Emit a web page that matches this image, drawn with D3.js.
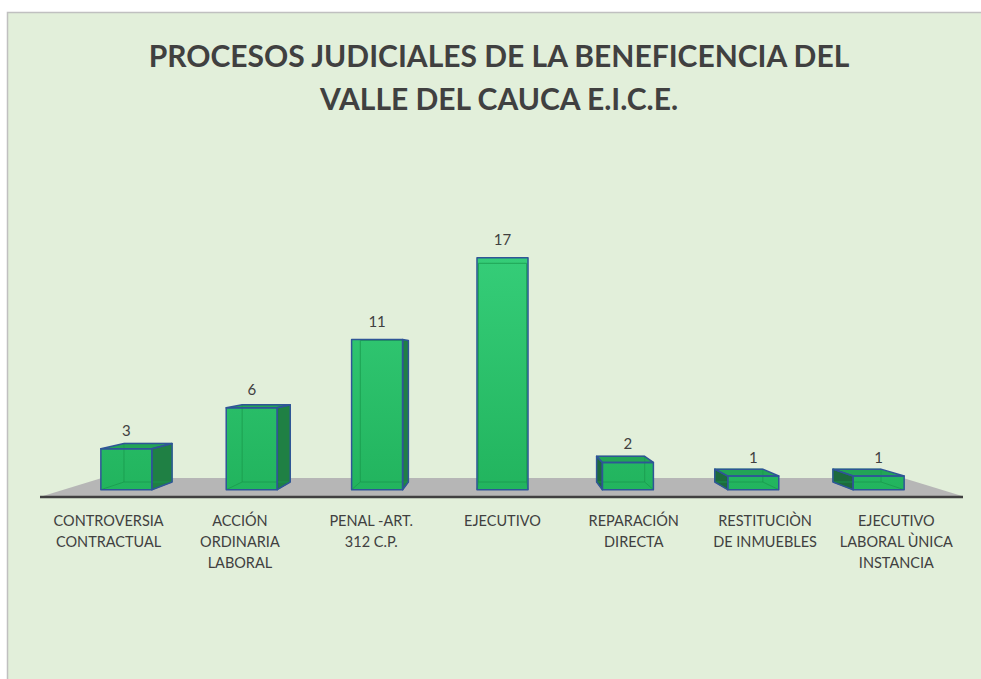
<!DOCTYPE html>
<html>
<head>
<meta charset="utf-8">
<script src="https://cdn.jsdelivr.net/npm/d3@7"></script>
<style>
  body { margin: 0; background: #ffffff; overflow: hidden; }
  text { font-family: Lato, "Open Sans", sans-serif; fill: #404040; }
</style>
</head>
<body>
<div id="wrapper"></div>
<script>
// chart data
const categories = ["CONTROVERSIA CONTRACTUAL", "ACCIÓN ORDINARIA LABORAL", "PENAL -ART. 312 C.P.", "EJECUTIVO",
  "REPARACIÓN DIRECTA", "RESTITUCIÒN DE INMUEBLES", "EJECUTIVO LABORAL ÙNICA INSTANCIA"]
const values = [3, 6, 11, 17, 2, 1, 1]
const tickLines = [
  ["CONTROVERSIA", "CONTRACTUAL"],
  ["ACCIÓN", "ORDINARIA", "LABORAL"],
  ["PENAL -ART.", "312 C.P."],
  ["EJECUTIVO"],
  ["REPARACIÓN", "DIRECTA"],
  ["RESTITUCIÒN", "DE INMUEBLES"],
  ["EJECUTIVO", "LABORAL ÙNICA", "INSTANCIA"]
]
const titleLines = ["PROCESOS JUDICIALES DE LA BENEFICENCIA DEL", "VALLE DEL CAUCA E.I.C.E."]

function drawChart(){
  const width = 981, height = 679

  const svg = d3.select("#wrapper").append("svg")
    .attr("width", width)
    .attr("height", height)

  // chart panel (runs off the right and bottom edges)
  svg.append("rect")
    .attr("x", 7.5).attr("y", 12.5)
    .attr("width", 1000).attr("height", 700)
    .attr("fill", "#e2efda")
    .attr("stroke", "#c0c0c0")
    .attr("stroke-width", 1.5)

  // title
  svg.append("g").selectAll("text")
    .data(titleLines)
    .join("text")
    .attr("x", 499)
    .attr("y", (d, i) => 67 + i * 43)
    .attr("text-anchor", "middle")
    .style("font-size", "30px")
    .style("font-weight", "bold")
    .text(d => d)

  // scales on the front plane of the floor
  const xScale = d3.scaleBand()
    .domain(categories)
    .range([43, 962])
    .paddingInner(0.593)
    .paddingOuter(0.2965)

  const yScale = d3.scaleLinear()
    .domain([0, 17])
    .range([496, 253])

  // simple perspective: shrink towards a vanishing point by depth factor s
  const vp = {x: 502.5, y: 356}
  const depth = {floorBack: 0.872, barFront: 0.955, barBack: 0.9}
  const proj = (x, y, s) => [vp.x + (x - vp.x) * s, vp.y + (y - vp.y) * s]

  // floor
  const y0 = yScale(0)
  const [x0, x1] = xScale.range()
  const floorPts = [proj(x0, y0, 1), proj(x1, y0, 1), proj(x1, y0, depth.floorBack), proj(x0, y0, depth.floorBack)]
  svg.append("polygon")
    .attr("points", floorPts.map(p => p.join(",")).join(" "))
    .attr("fill", "#b6b6b6")

  svg.append("line")
    .attr("x1", x0 - 3).attr("x2", x1 + 1)
    .attr("y1", y0 + 1).attr("y2", y0 + 1)
    .attr("stroke", "#404040")
    .attr("stroke-width", 2.5)

  const defs = svg.append("defs")
  const grad = defs.append("linearGradient")
    .attr("id", "frontGrad")
    .attr("gradientUnits", "userSpaceOnUse")
    .attr("x1", 0).attr("x2", 0)
    .attr("y1", proj(0, yScale(17), depth.barFront)[1])
    .attr("y2", proj(0, y0, depth.barFront)[1])
  grad.append("stop").attr("offset", "0%").attr("stop-color", "#35cd78")
  grad.append("stop").attr("offset", "100%").attr("stop-color", "#22b45e")

  const f = depth.barFront, b = depth.barBack
  const bars = svg.append("g")

  categories.forEach((c, i) => {
    const xl = xScale(c), xr = xScale(c) + xScale.bandwidth()
    const yt = yScale(values[i]), yb = y0
    const faces = {
      front: [proj(xl, yt, f), proj(xr, yt, f), proj(xr, yb, f), proj(xl, yb, f)],
      left: [proj(xl, yt, f), proj(xl, yt, b), proj(xl, yb, b), proj(xl, yb, f)],
      right: [proj(xr, yt, f), proj(xr, yt, b), proj(xr, yb, b), proj(xr, yb, f)],
      top: [proj(xl, yt, f), proj(xr, yt, f), proj(xr, yt, b), proj(xl, yt, b)],
    }
    const visible = []
    if (faces.right[0][0] < vp.x - 1) visible.push(["right", "#1f8044"])
    if (faces.left[0][0] > vp.x + 1) visible.push(["left", "#1d6a3d"])
    if (yt > vp.y) visible.push(["top", "#22a556"])
    visible.push(["front", "url(#frontGrad)"])

    const g = bars.append("g")
    const pts = p => p.map(q => q.join(",")).join(" ")

    visible.forEach(([k, col]) => {
      g.append("polygon")
        .attr("points", pts(faces[k]))
        .attr("fill", col)
    })

    // hidden edges seen through the translucent bar
    const hidden = [
      [proj(xl, yt, b), proj(xl, yb, b)],
      [proj(xr, yt, b), proj(xr, yb, b)],
      [proj(xl, yb, b), proj(xr, yb, b)],
      [proj(xl, yt, b), proj(xr, yt, b)],
      [proj(xl, yb, f), proj(xl, yb, b)],
      [proj(xr, yb, f), proj(xr, yb, b)],
    ]
    hidden.forEach(([p, q]) => {
      g.append("line")
        .attr("x1", p[0]).attr("y1", p[1])
        .attr("x2", q[0]).attr("y2", q[1])
        .attr("stroke", "#1a9a4e")
        .attr("stroke-width", 1)
        .attr("stroke-opacity", 0.8)
    })

    visible.forEach(([k]) => {
      g.append("polygon")
        .attr("points", pts(faces[k]))
        .attr("fill", "none")
        .attr("stroke", "#2f5597")
        .attr("stroke-width", 1.5)
        .attr("stroke-linejoin", "round")
    })

    // value label
    const top = proj(xl + xScale.bandwidth() / 2, yt, f)
    svg.append("text")
      .attr("x", top[0])
      .attr("y", top[1] - 13)
      .attr("text-anchor", "middle")
      .style("font-size", "15px")
      .text(values[i])
  })

  // category labels along the floor front edge
  const ticks = svg.append("g")
  categories.forEach((c, i) => {
    ticks.append("text")
      .attr("x", xScale(c) + xScale.bandwidth() / 2)
      .attr("y", 526)
      .attr("text-anchor", "middle")
      .style("font-size", "14.5px")
      .selectAll("tspan")
      .data(tickLines[i])
      .join("tspan")
      .attr("x", xScale(c) + xScale.bandwidth() / 2)
      .attr("dy", (d, j) => j === 0 ? 0 : 21)
      .text(d => d)
  })
}

drawChart()
</script>
</body>
</html>
